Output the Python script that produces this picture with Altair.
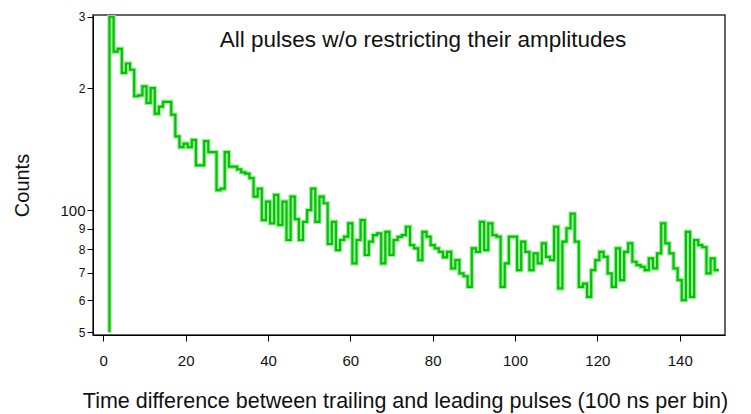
import altair as alt
import pandas as pd

# bin index (100 ns per bin)
bins = list(range(1, 150))
# counts per bin
counts = [
    50, 300, 246, 250, 218, 230, 222, 191, 192, 202,
    184, 200, 173, 180, 185, 185, 172, 152, 143, 146,
    143, 149, 129, 129, 148, 139, 139, 112, 113, 139,
    128, 128, 126, 124, 123, 120, 108, 113, 94.5, 105,
    92.8, 109, 91.9, 105, 84.4, 108, 95, 84.4, 93.6, 100,
    113, 93.6, 108, 104, 82.5, 93.6, 79.7, 84.4, 86, 92.8,
    73.9, 84.4, 94.5, 77.5, 83.6, 86.8, 87.6, 73.9, 88.4, 77.5,
    84.4, 85.9, 86.8, 91, 82, 80.5, 75.3, 88.4, 86, 82,
    80.5, 78.9, 76.5, 78.9, 71.8, 75.3, 69.8, 68.7, 64.7, 80.5,
    78.9, 93.6, 79.7, 92.8, 86.8, 86, 64.7, 73.9, 86, 86,
    71.1, 83.6, 78.9, 71.1, 78.2, 73.9, 82.8, 76.7, 75.3, 91,
    64.1, 83.6, 90.2, 98, 83.6, 64.7, 65.9, 61.1, 71.1, 75.3,
    78.9, 76.7, 69.8, 64.7, 80.5, 67.2, 78.9, 82.8, 74.6, 73.2,
    72.5, 71.1, 76, 71.8, 78.2, 92.8, 82.8, 78.2, 71.8, 67.2,
    60, 88.4, 61.1, 84.4, 82, 81, 69.8, 76, 71.1,
]

x_ticks = [0, 20, 40, 60, 80, 100, 120, 140]
y_ticks = [50, 60, 70, 80, 90, 100, 200, 300]
x_title = "Time difference between trailing and leading pulses (100 ns per bin)"
y_title = "Counts"
note = "All pulses w/o restricting their amplitudes"

FONT = "Liberation Sans"

df = pd.DataFrame({"bin": bins, "counts": counts})
base = alt.Chart(df).transform_calculate(edge="datum.bin + 0.5")

x_enc = alt.X(
    "edge:Q",
    scale=alt.Scale(domain=[-2.5, 151], nice=False, zero=False),
    axis=alt.Axis(
        values=x_ticks, title=x_title, grid=False,
        domainColor="black", tickColor="black", tickSize=6,
        labelFont=FONT, labelFontSize=15, labelColor="#111", labelPadding=12,
        titleFont=FONT, titleFontSize=21.5, titleFontWeight="normal", titleColor="#111",
        titleBaseline="middle", titleY=66, titleX=312,
    ),
)
y_enc = alt.Y(
    "counts:Q",
    scale=alt.Scale(type="log", domain=[49.2, 303], nice=False),
    axis=alt.Axis(
        values=y_ticks, grid=False, title=y_title,
        labelExpr="datum.value == 100 ? '100' : (datum.value > 100 ? '' + (datum.value / 100) : '' + (datum.value / 10))",
        labelFontSize={"condition": {"test": "datum.value == 100", "value": 15}, "value": 12},
        domainColor="black", tickColor="black", tickSize=6,
        labelFont=FONT, labelColor="#111", labelPadding=2,
        titleFont=FONT, titleFontSize=20, titleFontWeight="normal", titleColor="#111",
        titleAngle=-90, titleX=-71, titleY=170, titleAlign="center", titleBaseline="middle",
    ),
)

halo = base.mark_line(interpolate="step-before", color="#a2eaa2", strokeWidth=4.5, clip=True).encode(
    x=x_enc, y=y_enc
)
core = base.mark_line(interpolate="step-before", color="#00c400", strokeWidth=2.2, clip=True).encode(
    x="edge:Q", y="counts:Q"
)
label = alt.Chart(pd.DataFrame({"t": [note]})).mark_text(
    font=FONT, fontSize=22.5, color="#111", align="center", baseline="middle"
).encode(text="t:N", x=alt.value(330), y=alt.value(25))

chart = alt.layer(halo, core, label).properties(
    width=632, height=320,
    autosize=alt.AutoSizeParams(type="none"),
    padding={"left": 85, "top": 7, "right": 18, "bottom": 78},
).configure_view(stroke="#333", strokeWidth=1.5)

chart.save("out.html", embed_options={"renderer": "svg", "actions": False})
